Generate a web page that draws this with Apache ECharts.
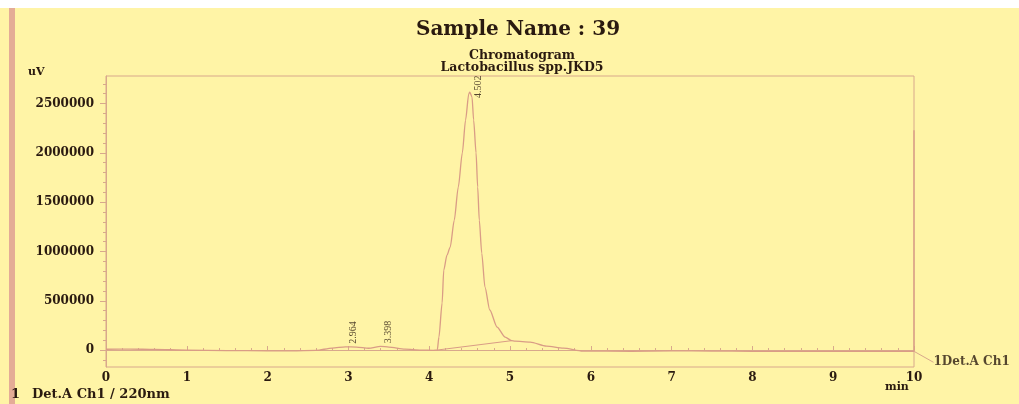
<!DOCTYPE html>
<html>
<head>
<meta charset="utf-8">
<script src="https://cdn.jsdelivr.net/npm/echarts@6/dist/echarts.min.js"></script>
<style>
  html, body { margin: 0; padding: 0; background: #fff4a6; }
  #chart { width: 1019px; height: 404px; }
</style>
</head>
<body>
<div id="chart"></div>
<script>
  // retention time (min) and detector signal (uV)
  var times = [0, 0.3, 0.6, 1.0, 1.5, 2.0, 2.3, 2.6, 2.8, 2.964, 3.1, 3.25, 3.398, 3.5, 3.7, 3.9, 4.05,
    4.10, 4.12, 4.16, 4.18, 4.22, 4.26, 4.31, 4.36, 4.41, 4.45, 4.49, 4.502, 4.53, 4.55, 4.58, 4.60, 4.62,
    4.65, 4.69, 4.75, 4.84, 4.94, 5.02, 5.06, 5.25, 5.45, 5.66, 5.9, 6.5, 7.0, 7.5, 8.0, 9.0, 10.0, 10.0];
  var signal = [8000, 10000, 6000, 0, -5000, -8000, -8000, -4000, 20000, 33000, 30000, 18000, 38000, 30000, 10000, 0, -3000,
    0, 130000, 477000, 811000, 963000, 1045000, 1318000, 1653000, 2000000, 2333000, 2600000, 2617000, 2566000, 2333000, 2000000, 1653000, 1318000,
    984000, 639000, 406000, 233000, 132000, 95000, 91000, 81000, 40000, 20000, -10000, -12000, -8000, -10000, -13000, -13000, -13000, 2230000];

  // integration baseline under the main peak
  var baseTimes = [4.10, 5.02];
  var baseSignal = [0, 95000];

  // labelled peaks
  var peakTimes = [2.964, 3.398, 4.502];
  var peakHeights = [33000, 38000, 2617000];

  // where the channel name hangs off the trace
  var channelName = '1Det.A Ch1';
  var channelPoint = [10.0, -13000];

  var yTicks = [0, 500000, 1000000, 1500000, 2000000, 2500000];
  var yMinorTicks = [-100000, 100000, 200000, 300000, 400000, 600000, 700000, 800000, 900000,
    1100000, 1200000, 1300000, 1400000, 1600000, 1700000, 1800000, 1900000,
    2100000, 2200000, 2300000, 2400000, 2600000, 2700000];

  var lineColor = '#d99c86';
  var axisColor = '#d8a88c';
  var textColor = '#2a1a10';
  var serif = '"DejaVu Serif", "Liberation Serif", serif';

  var traceData = times.map(function (t, k) { return [t, signal[k]]; });
  var baseData = baseTimes.map(function (t, k) { return [t, baseSignal[k]]; });
  var peakData = peakTimes.map(function (t, k) {
    // tall peak gets its label beside the apex, small ones sit just above
    var big = peakHeights[k] > 1000000;
    return { value: [t, peakHeights[k]], label: { position: big ? [9, 6] : [8, -3] } };
  });

  var chart = echarts.init(document.getElementById('chart'));
  var option = {
    backgroundColor: '#fff4a6',
    animation: false,
    title: [
      {
        text: 'Sample Name : 39',
        left: 513, top: 15, textAlign: 'center',
        textStyle: { fontFamily: serif, fontWeight: 'bold', fontSize: 20, color: textColor }
      },
      {
        text: 'Chromatogram\nLactobacillus spp.JKD5',
        left: 517, top: 44, textAlign: 'center',
        textStyle: { fontFamily: serif, fontWeight: 'bold', fontSize: 12.5, lineHeight: 12.5, color: textColor }
      }
    ],
    graphic: [
      { type: 'rect', left: 0, top: 0, shape: { width: 1019, height: 8 }, style: { fill: '#ffffff' }, silent: true },
      { type: 'rect', left: 9, top: 8, shape: { width: 6, height: 396 }, style: { fill: '#e4ac96' }, silent: true },
      {
        type: 'text', left: 28, top: 67,
        style: { text: 'uV', font: 'bold 11px ' + serif, fill: textColor }
      },
      {
        type: 'text', left: 885, top: 382,
        style: { text: 'min', font: 'bold 11px ' + serif, fill: textColor }
      },
      {
        type: 'text', left: 11, top: 388,
        style: { text: '1', font: 'bold 13px ' + serif, fill: textColor }
      },
      {
        type: 'text', left: 32, top: 388,
        style: { text: 'Det.A Ch1 / 220nm', font: 'bold 13px ' + serif, fill: textColor }
      }
    ],
    grid: {
      left: 106, right: 105, top: 76, bottom: 37,
      show: true, borderColor: axisColor, borderWidth: 1, backgroundColor: 'transparent'
    },
    xAxis: {
      type: 'value',
      min: 0, max: 10, interval: 1,
      axisLine: { lineStyle: { color: axisColor } },
      axisTick: { inside: true, length: 4, lineStyle: { color: axisColor } },
      minorTick: { show: true, splitNumber: 5, length: 2, lineStyle: { color: axisColor } },
      splitLine: { show: false },
      axisLabel: { color: textColor, fontFamily: serif, fontWeight: 'bold', fontSize: 12, margin: 5 }
    },
    yAxis: [
      {
        type: 'value',
        min: -172000, max: 2780000,
        axisLine: { show: true, lineStyle: { color: axisColor } },
        axisTick: { show: true, length: 6, customValues: yTicks, lineStyle: { color: axisColor } },
        axisLabel: {
          customValues: yTicks,
          formatter: function (v) { return String(v); },
          color: textColor, fontFamily: serif, fontWeight: 'bold', fontSize: 12, margin: 12
        },
        splitLine: { show: false }
      },
      {
        type: 'value',
        position: 'left',
        min: -172000, max: 2780000,
        axisLine: { show: false },
        axisTick: { show: true, length: 3, customValues: yMinorTicks, lineStyle: { color: axisColor } },
        axisLabel: { show: false },
        splitLine: { show: false }
      }
    ],
    series: [
      {
        name: 'Det.A Ch1',
        type: 'line',
        data: traceData,
        showSymbol: false,
        symbol: 'none',
        smooth: 0.25,
        smoothMonotone: 'x',
        clip: false,
        lineStyle: { color: lineColor, width: 1.3 }
      },
      {
        name: 'baseline',
        type: 'line',
        data: baseData,
        symbol: 'none',
        lineStyle: { color: lineColor, width: 1 }
      },
      {
        name: 'peaks',
        type: 'scatter',
        data: peakData,
        symbolSize: 0,
        label: {
          show: true,
          formatter: function (p) { return p.value[0].toFixed(3); },
          rotate: 90,
          align: 'left',
          verticalAlign: 'middle',
          color: textColor,
          fontFamily: '"Liberation Serif", serif',
          fontSize: 10
        }
      },
      {
        name: 'channel',
        type: 'scatter',
        data: [channelPoint],
        symbolSize: 1,
        itemStyle: { color: lineColor },
        clip: false,
        label: {
          show: true,
          formatter: channelName,
          position: 'right',
          distance: 0,
          color: textColor,
          fontFamily: serif,
          fontWeight: 'bold',
          fontSize: 12
        },
        labelLayout: { dx: 19, dy: 11 },
        labelLine: { show: true, lineStyle: { color: axisColor, width: 1 } }
      }
    ]
  };
  chart.setOption(option);
</script>
</body>
</html>
